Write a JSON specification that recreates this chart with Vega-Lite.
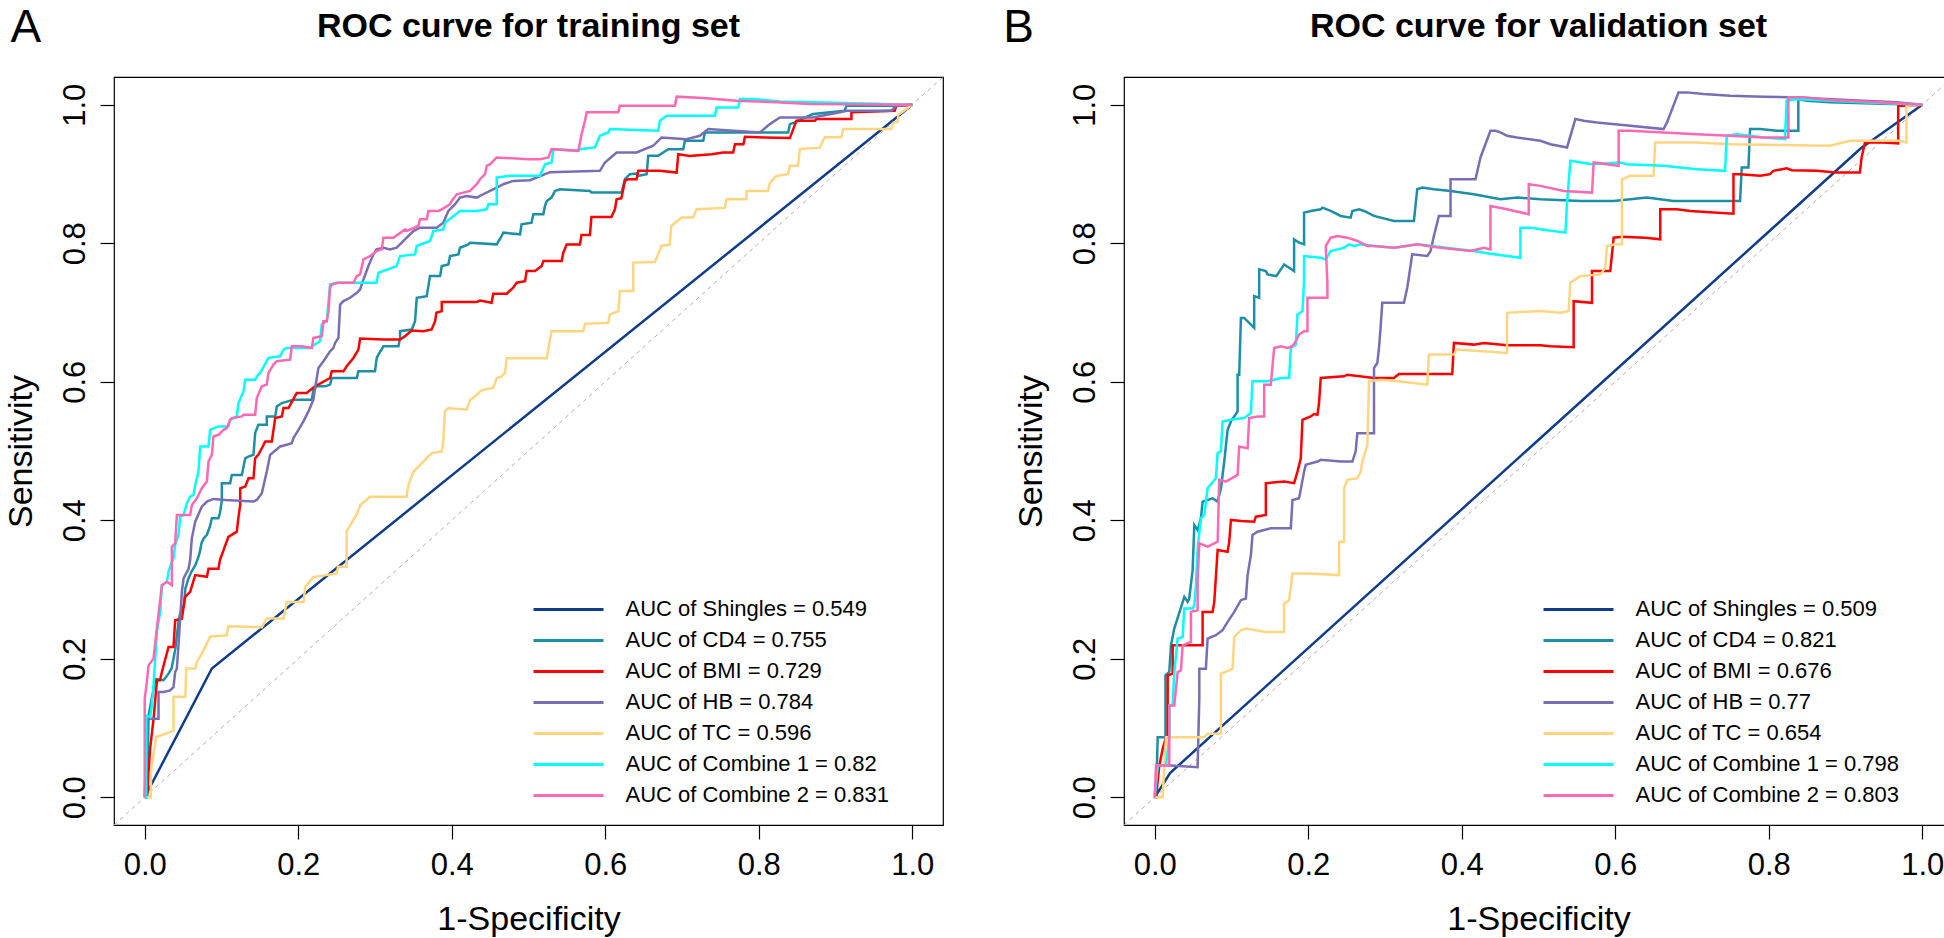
{
"$schema":"https://vega.github.io/schema/vega-lite/v6.json",
"padding":{"left":3,"top":3,"right":0,"bottom":0},
"background":"white",
"spacing":56,
"resolve":{"scale":{"color":"independent"},"legend":{"color":"independent"}},
"config":{
"font":"Liberation Sans",
"view":{"stroke":"#000","strokeWidth":1.2},
"axis":{"grid":false,"domain":false,"tickColor":"#000","tickSize":14,"tickWidth":1.2,"labelColor":"#000","labelFont":"Liberation Sans","labelFontSize":31,"titleFont":"Liberation Sans","titleFontSize":34,"titleFontWeight":"normal","titleColor":"#000","labelOverlap":false,"labelFlush":false}
},
"datasets":{
"aucA":[{"s":"S","lab":"AUC of Shingles = 0.549"},{"s":"C","lab":"AUC of CD4 = 0.755"},{"s":"B","lab":"AUC of BMI = 0.729"},{"s":"H","lab":"AUC of HB = 0.784"},{"s":"T","lab":"AUC of TC = 0.596"},{"s":"C1","lab":"AUC of Combine 1 = 0.82"},{"s":"C2","lab":"AUC of Combine 2 = 0.831"}],
"aucB":[{"s":"S","lab":"AUC of Shingles = 0.509"},{"s":"C","lab":"AUC of CD4 = 0.821"},{"s":"B","lab":"AUC of BMI = 0.676"},{"s":"H","lab":"AUC of HB = 0.77"},{"s":"T","lab":"AUC of TC = 0.654"},{"s":"C1","lab":"AUC of Combine 1 = 0.798"},{"s":"C2","lab":"AUC of Combine 2 = 0.803"}],
"tr":[
{"s":"S","x":0,"y":0},{"s":"S","x":0.0875,"y":0.186},{"s":"S","x":1,"y":1},
{"s":"C","x":0,"y":0},{"s":"C","x":0.003,"y":0},{"s":"C","x":0.005,"y":0.118},{"s":"C","x":0.014,"y":0.171},{"s":"C","x":0.0245,"y":0.169},{"s":"C","x":0.031,"y":0.1785},{"s":"C","x":0.035,"y":0.186},{"s":"C","x":0.0375,"y":0.2},{"s":"C","x":0.04,"y":0.215},{"s":"C","x":0.044,"y":0.253},{"s":"C","x":0.046,"y":0.265},{"s":"C","x":0.051,"y":0.277},{"s":"C","x":0.053,"y":0.3015},{"s":"C","x":0.057,"y":0.316},{"s":"C","x":0.061,"y":0.326},{"s":"C","x":0.066,"y":0.335},{"s":"C","x":0.07,"y":0.347},{"s":"C","x":0.072,"y":0.355},{"s":"C","x":0.074,"y":0.367},{"s":"C","x":0.077,"y":0.374},{"s":"C","x":0.081,"y":0.379},{"s":"C","x":0.085,"y":0.391},{"s":"C","x":0.0875,"y":0.403},{"s":"C","x":0.096,"y":0.403},{"s":"C","x":0.098,"y":0.41},{"s":"C","x":0.1005,"y":0.429},{"s":"C","x":0.1005,"y":0.4535},{"s":"C","x":0.1113,"y":0.4535},{"s":"C","x":0.1135,"y":0.4655},{"s":"C","x":0.1265,"y":0.4655},{"s":"C","x":0.131,"y":0.4896},{"s":"C","x":0.135,"y":0.492},{"s":"C","x":0.1417,"y":0.4945},{"s":"C","x":0.1439,"y":0.5258},{"s":"C","x":0.148,"y":0.5379},{"s":"C","x":0.159,"y":0.5379},{"s":"C","x":0.159,"y":0.5499},{"s":"C","x":0.17,"y":0.5499},{"s":"C","x":0.1721,"y":0.5644},{"s":"C","x":0.1786,"y":0.5692},{"s":"C","x":0.1938,"y":0.574},{"s":"C","x":0.2177,"y":0.574},{"s":"C","x":0.2198,"y":0.5885},{"s":"C","x":0.2242,"y":0.5934},{"s":"C","x":0.235,"y":0.5934},{"s":"C","x":0.2415,"y":0.5958},{"s":"C","x":0.2437,"y":0.6054},{"s":"C","x":0.2763,"y":0.6054},{"s":"C","x":0.2784,"y":0.615},{"s":"C","x":0.3,"y":0.615},{"s":"C","x":0.3023,"y":0.6344},{"s":"C","x":0.3045,"y":0.6392},{"s":"C","x":0.311,"y":0.6512},{"s":"C","x":0.3305,"y":0.6512},{"s":"C","x":0.3327,"y":0.6633},{"s":"C","x":0.3327,"y":0.673},{"s":"C","x":0.3479,"y":0.6754},{"s":"C","x":0.3522,"y":0.6874},{"s":"C","x":0.3544,"y":0.7212},{"s":"C","x":0.3674,"y":0.7236},{"s":"C","x":0.3696,"y":0.738},{"s":"C","x":0.3717,"y":0.7525},{"s":"C","x":0.3848,"y":0.7525},{"s":"C","x":0.387,"y":0.767},{"s":"C","x":0.3956,"y":0.7694},{"s":"C","x":0.3978,"y":0.7815},{"s":"C","x":0.4086,"y":0.7839},{"s":"C","x":0.4108,"y":0.7935},{"s":"C","x":0.4216,"y":0.7984},{"s":"C","x":0.4238,"y":0.8008},{"s":"C","x":0.4586,"y":0.7984},{"s":"C","x":0.465,"y":0.8104},{"s":"C","x":0.4672,"y":0.8152},{"s":"C","x":0.489,"y":0.8128},{"s":"C","x":0.491,"y":0.8273},{"s":"C","x":0.504,"y":0.8297},{"s":"C","x":0.5063,"y":0.8418},{"s":"C","x":0.5193,"y":0.8418},{"s":"C","x":0.5215,"y":0.8539},{"s":"C","x":0.5237,"y":0.861},{"s":"C","x":0.53,"y":0.8659},{"s":"C","x":0.5345,"y":0.8755},{"s":"C","x":0.541,"y":0.878},{"s":"C","x":0.58,"y":0.8755},{"s":"C","x":0.582,"y":0.8731},{"s":"C","x":0.6213,"y":0.8731},{"s":"C","x":0.6256,"y":0.8924},{"s":"C","x":0.632,"y":0.8997},{"s":"C","x":0.6408,"y":0.9006},{"s":"C","x":0.643,"y":0.8972},{"s":"C","x":0.6539,"y":0.8997},{"s":"C","x":0.656,"y":0.9262},{"s":"C","x":0.669,"y":0.9262},{"s":"C","x":0.682,"y":0.9358},{"s":"C","x":0.7016,"y":0.9358},{"s":"C","x":0.7037,"y":0.9479},{"s":"C","x":0.7276,"y":0.9479},{"s":"C","x":0.7298,"y":0.96},{"s":"C","x":0.8383,"y":0.96},{"s":"C","x":0.8405,"y":0.972},{"s":"C","x":0.847,"y":0.9744},{"s":"C","x":0.8514,"y":0.9769},{"s":"C","x":0.8707,"y":0.9865},{"s":"C","x":0.912,"y":0.9913},{"s":"C","x":0.9142,"y":0.9986},{"s":"C","x":0.9751,"y":0.9986},{"s":"C","x":1,"y":1},
{"s":"B","x":0,"y":0},{"s":"B","x":0.003,"y":0},{"s":"B","x":0.007,"y":0.07},{"s":"B","x":0.0115,"y":0.113},{"s":"B","x":0.016,"y":0.169},{"s":"B","x":0.02,"y":0.169},{"s":"B","x":0.0224,"y":0.181},{"s":"B","x":0.031,"y":0.217},{"s":"B","x":0.0375,"y":0.217},{"s":"B","x":0.0397,"y":0.2557},{"s":"B","x":0.0484,"y":0.258},{"s":"B","x":0.0527,"y":0.2894},{"s":"B","x":0.0592,"y":0.2967},{"s":"B","x":0.0658,"y":0.3208},{"s":"B","x":0.081,"y":0.3184},{"s":"B","x":0.0831,"y":0.33},{"s":"B","x":0.0961,"y":0.33},{"s":"B","x":0.098,"y":0.3425},{"s":"B","x":0.109,"y":0.376},{"s":"B","x":0.12,"y":0.3835},{"s":"B","x":0.122,"y":0.403},{"s":"B","x":0.1244,"y":0.422},{"s":"B","x":0.1244,"y":0.446},{"s":"B","x":0.131,"y":0.4486},{"s":"B","x":0.1352,"y":0.4607},{"s":"B","x":0.1417,"y":0.4607},{"s":"B","x":0.1439,"y":0.4896},{"s":"B","x":0.148,"y":0.4945},{"s":"B","x":0.1526,"y":0.504},{"s":"B","x":0.157,"y":0.5137},{"s":"B","x":0.1656,"y":0.5137},{"s":"B","x":0.17,"y":0.5475},{"s":"B","x":0.1786,"y":0.5499},{"s":"B","x":0.1808,"y":0.562},{"s":"B","x":0.1873,"y":0.562},{"s":"B","x":0.198,"y":0.5837},{"s":"B","x":0.211,"y":0.5837},{"s":"B","x":0.222,"y":0.5934},{"s":"B","x":0.2415,"y":0.6054},{"s":"B","x":0.2437,"y":0.615},{"s":"B","x":0.2589,"y":0.615},{"s":"B","x":0.2632,"y":0.6223},{"s":"B","x":0.2719,"y":0.6344},{"s":"B","x":0.2784,"y":0.6464},{"s":"B","x":0.2806,"y":0.6623},{"s":"B","x":0.311,"y":0.661},{"s":"B","x":0.3327,"y":0.661},{"s":"B","x":0.339,"y":0.6657},{"s":"B","x":0.3479,"y":0.674},{"s":"B","x":0.363,"y":0.673},{"s":"B","x":0.3739,"y":0.6754},{"s":"B","x":0.3783,"y":0.6874},{"s":"B","x":0.38,"y":0.6995},{"s":"B","x":0.387,"y":0.702},{"s":"B","x":0.387,"y":0.7153},{"s":"B","x":0.4325,"y":0.7153},{"s":"B","x":0.4369,"y":0.7173},{"s":"B","x":0.452,"y":0.714},{"s":"B","x":0.454,"y":0.727},{"s":"B","x":0.4716,"y":0.727},{"s":"B","x":0.48,"y":0.7357},{"s":"B","x":0.4846,"y":0.743},{"s":"B","x":0.4955,"y":0.7453},{"s":"B","x":0.4976,"y":0.76},{"s":"B","x":0.5085,"y":0.76},{"s":"B","x":0.5172,"y":0.767},{"s":"B","x":0.5194,"y":0.7745},{"s":"B","x":0.5432,"y":0.7745},{"s":"B","x":0.5454,"y":0.7863},{"s":"B","x":0.5497,"y":0.7983},{"s":"B","x":0.567,"y":0.7983},{"s":"B","x":0.569,"y":0.8119},{"s":"B","x":0.58,"y":0.8119},{"s":"B","x":0.582,"y":0.838},{"s":"B","x":0.608,"y":0.838},{"s":"B","x":0.6126,"y":0.849},{"s":"B","x":0.6148,"y":0.8635},{"s":"B","x":0.621,"y":0.865},{"s":"B","x":0.6256,"y":0.89},{"s":"B","x":0.63,"y":0.8925},{"s":"B","x":0.6408,"y":0.8925},{"s":"B","x":0.643,"y":0.9045},{"s":"B","x":0.671,"y":0.9045},{"s":"B","x":0.693,"y":0.902},{"s":"B","x":0.6951,"y":0.9286},{"s":"B","x":0.71,"y":0.926},{"s":"B","x":0.7384,"y":0.9286},{"s":"B","x":0.7537,"y":0.931},{"s":"B","x":0.7667,"y":0.931},{"s":"B","x":0.769,"y":0.943},{"s":"B","x":0.78,"y":0.943},{"s":"B","x":0.782,"y":0.9537},{"s":"B","x":0.8079,"y":0.9527},{"s":"B","x":0.8405,"y":0.9518},{"s":"B","x":0.8449,"y":0.9648},{"s":"B","x":0.849,"y":0.9769},{"s":"B","x":0.873,"y":0.9769},{"s":"B","x":0.8752,"y":0.9793},{"s":"B","x":0.9207,"y":0.9793},{"s":"B","x":0.9207,"y":0.989},{"s":"B","x":0.9771,"y":0.9913},{"s":"B","x":0.9793,"y":0.9986},{"s":"B","x":1,"y":1},
{"s":"H","x":0,"y":0},{"s":"H","x":0.0028,"y":0.1134},{"s":"H","x":0.018,"y":0.1134},{"s":"H","x":0.018,"y":0.152},{"s":"H","x":0.0245,"y":0.152},{"s":"H","x":0.0332,"y":0.1544},{"s":"H","x":0.0375,"y":0.159},{"s":"H","x":0.0397,"y":0.1809},{"s":"H","x":0.0419,"y":0.1857},{"s":"H","x":0.044,"y":0.2195},{"s":"H","x":0.0462,"y":0.258},{"s":"H","x":0.0484,"y":0.2967},{"s":"H","x":0.0506,"y":0.316},{"s":"H","x":0.0571,"y":0.33},{"s":"H","x":0.0592,"y":0.3425},{"s":"H","x":0.0614,"y":0.3739},{"s":"H","x":0.0658,"y":0.398},{"s":"H","x":0.0744,"y":0.4197},{"s":"H","x":0.081,"y":0.427},{"s":"H","x":0.0896,"y":0.4308},{"s":"H","x":0.1048,"y":0.4293},{"s":"H","x":0.1417,"y":0.427},{"s":"H","x":0.146,"y":0.4293},{"s":"H","x":0.1526,"y":0.439},{"s":"H","x":0.157,"y":0.4607},{"s":"H","x":0.159,"y":0.47},{"s":"H","x":0.1634,"y":0.4945},{"s":"H","x":0.1764,"y":0.5065},{"s":"H","x":0.185,"y":0.509},{"s":"H","x":0.1916,"y":0.5113},{"s":"H","x":0.1938,"y":0.5186},{"s":"H","x":0.2003,"y":0.5306},{"s":"H","x":0.2068,"y":0.5427},{"s":"H","x":0.2133,"y":0.5572},{"s":"H","x":0.2198,"y":0.574},{"s":"H","x":0.222,"y":0.5909},{"s":"H","x":0.2242,"y":0.6054},{"s":"H","x":0.2263,"y":0.6199},{"s":"H","x":0.2329,"y":0.6295},{"s":"H","x":0.2415,"y":0.644},{"s":"H","x":0.2459,"y":0.6488},{"s":"H","x":0.248,"y":0.656},{"s":"H","x":0.2524,"y":0.6633},{"s":"H","x":0.2546,"y":0.7115},{"s":"H","x":0.2589,"y":0.7164},{"s":"H","x":0.2676,"y":0.7212},{"s":"H","x":0.2763,"y":0.7284},{"s":"H","x":0.2806,"y":0.7332},{"s":"H","x":0.285,"y":0.7477},{"s":"H","x":0.2914,"y":0.767},{"s":"H","x":0.298,"y":0.7839},{"s":"H","x":0.302,"y":0.7911},{"s":"H","x":0.311,"y":0.7935},{"s":"H","x":0.3197,"y":0.7911},{"s":"H","x":0.3283,"y":0.7935},{"s":"H","x":0.3413,"y":0.808},{"s":"H","x":0.35,"y":0.8176},{"s":"H","x":0.3587,"y":0.8225},{"s":"H","x":0.3804,"y":0.8225},{"s":"H","x":0.389,"y":0.8297},{"s":"H","x":0.3956,"y":0.8466},{"s":"H","x":0.4043,"y":0.8563},{"s":"H","x":0.4108,"y":0.8659},{"s":"H","x":0.4195,"y":0.8683},{"s":"H","x":0.4325,"y":0.8659},{"s":"H","x":0.441,"y":0.8707},{"s":"H","x":0.4499,"y":0.8755},{"s":"H","x":0.4586,"y":0.8804},{"s":"H","x":0.4672,"y":0.8852},{"s":"H","x":0.48,"y":0.89},{"s":"H","x":0.502,"y":0.891},{"s":"H","x":0.528,"y":0.9026},{"s":"H","x":0.593,"y":0.9045},{"s":"H","x":0.5996,"y":0.9166},{"s":"H","x":0.6148,"y":0.931},{"s":"H","x":0.6408,"y":0.931},{"s":"H","x":0.6625,"y":0.9407},{"s":"H","x":0.6733,"y":0.9527},{"s":"H","x":0.7059,"y":0.9503},{"s":"H","x":0.7233,"y":0.9551},{"s":"H","x":0.7341,"y":0.9648},{"s":"H","x":0.8015,"y":0.96},{"s":"H","x":0.8145,"y":0.972},{"s":"H","x":0.8275,"y":0.9817},{"s":"H","x":0.8707,"y":0.9817},{"s":"H","x":0.9056,"y":0.989},{"s":"H","x":0.9142,"y":0.9913},{"s":"H","x":0.9729,"y":0.9913},{"s":"H","x":0.9793,"y":0.9986},{"s":"H","x":1,"y":1},
{"s":"T","x":0,"y":0},{"s":"T","x":0.008,"y":0},{"s":"T","x":0.008,"y":0.036},{"s":"T","x":0.015,"y":0.087},{"s":"T","x":0.0375,"y":0.096},{"s":"T","x":0.0375,"y":0.145},{"s":"T","x":0.053,"y":0.145},{"s":"T","x":0.054,"y":0.186},{"s":"T","x":0.0658,"y":0.186},{"s":"T","x":0.068,"y":0.1954},{"s":"T","x":0.0744,"y":0.2075},{"s":"T","x":0.0853,"y":0.232},{"s":"T","x":0.107,"y":0.234},{"s":"T","x":0.109,"y":0.247},{"s":"T","x":0.1526,"y":0.2456},{"s":"T","x":0.159,"y":0.2581},{"s":"T","x":0.181,"y":0.2581},{"s":"T","x":0.185,"y":0.282},{"s":"T","x":0.207,"y":0.282},{"s":"T","x":0.209,"y":0.3039},{"s":"T","x":0.2198,"y":0.318},{"s":"T","x":0.25,"y":0.3232},{"s":"T","x":0.252,"y":0.333},{"s":"T","x":0.263,"y":0.333},{"s":"T","x":0.263,"y":0.384},{"s":"T","x":0.276,"y":0.408},{"s":"T","x":0.281,"y":0.422},{"s":"T","x":0.2936,"y":0.434},{"s":"T","x":0.341,"y":0.434},{"s":"T","x":0.3436,"y":0.451},{"s":"T","x":0.35,"y":0.47},{"s":"T","x":0.363,"y":0.4848},{"s":"T","x":0.374,"y":0.4969},{"s":"T","x":0.387,"y":0.4993},{"s":"T","x":0.389,"y":0.514},{"s":"T","x":0.391,"y":0.557},{"s":"T","x":0.3956,"y":0.562},{"s":"T","x":0.4195,"y":0.5596},{"s":"T","x":0.424,"y":0.574},{"s":"T","x":0.428,"y":0.5765},{"s":"T","x":0.437,"y":0.586},{"s":"T","x":0.441,"y":0.5885},{"s":"T","x":0.454,"y":0.591},{"s":"T","x":0.4586,"y":0.605},{"s":"T","x":0.465,"y":0.6078},{"s":"T","x":0.4694,"y":0.6126},{"s":"T","x":0.4716,"y":0.634},{"s":"T","x":0.5236,"y":0.634},{"s":"T","x":0.53,"y":0.673},{"s":"T","x":0.5714,"y":0.673},{"s":"T","x":0.5736,"y":0.6836},{"s":"T","x":0.6039,"y":0.685},{"s":"T","x":0.606,"y":0.697},{"s":"T","x":0.617,"y":0.702},{"s":"T","x":0.619,"y":0.731},{"s":"T","x":0.6365,"y":0.731},{"s":"T","x":0.6365,"y":0.772},{"s":"T","x":0.6646,"y":0.773},{"s":"T","x":0.6733,"y":0.796},{"s":"T","x":0.684,"y":0.798},{"s":"T","x":0.686,"y":0.825},{"s":"T","x":0.6994,"y":0.837},{"s":"T","x":0.7146,"y":0.837},{"s":"T","x":0.719,"y":0.849},{"s":"T","x":0.7556,"y":0.851},{"s":"T","x":0.758,"y":0.8635},{"s":"T","x":0.784,"y":0.8635},{"s":"T","x":0.784,"y":0.8755},{"s":"T","x":0.812,"y":0.8755},{"s":"T","x":0.8145,"y":0.8876},{"s":"T","x":0.823,"y":0.897},{"s":"T","x":0.838,"y":0.8997},{"s":"T","x":0.8406,"y":0.912},{"s":"T","x":0.851,"y":0.912},{"s":"T","x":0.8536,"y":0.936},{"s":"T","x":0.8795,"y":0.938},{"s":"T","x":0.886,"y":0.953},{"s":"T","x":0.9076,"y":0.953},{"s":"T","x":0.91,"y":0.965},{"s":"T","x":0.9729,"y":0.965},{"s":"T","x":0.975,"y":0.974},{"s":"T","x":0.9815,"y":0.976},{"s":"T","x":0.9815,"y":0.985},{"s":"T","x":1,"y":1},
{"s":"C1","x":0,"y":0},{"s":"C1","x":0.002,"y":0},{"s":"C1","x":0.002,"y":0.118},{"s":"C1","x":0.0072,"y":0.1158},{"s":"C1","x":0.0093,"y":0.1327},{"s":"C1","x":0.0115,"y":0.1616},{"s":"C1","x":0.0137,"y":0.2002},{"s":"C1","x":0.0158,"y":0.2388},{"s":"C1","x":0.0202,"y":0.2677},{"s":"C1","x":0.0224,"y":0.3063},{"s":"C1","x":0.0289,"y":0.3111},{"s":"C1","x":0.031,"y":0.3256},{"s":"C1","x":0.0354,"y":0.34},{"s":"C1","x":0.0375,"y":0.345},{"s":"C1","x":0.0397,"y":0.3642},{"s":"C1","x":0.044,"y":0.3787},{"s":"C1","x":0.0462,"y":0.4052},{"s":"C1","x":0.0506,"y":0.4076},{"s":"C1","x":0.055,"y":0.4245},{"s":"C1","x":0.0592,"y":0.4342},{"s":"C1","x":0.0636,"y":0.4366},{"s":"C1","x":0.0658,"y":0.451},{"s":"C1","x":0.068,"y":0.4607},{"s":"C1","x":0.07,"y":0.4703},{"s":"C1","x":0.0723,"y":0.5065},{"s":"C1","x":0.0831,"y":0.5065},{"s":"C1","x":0.0853,"y":0.5306},{"s":"C1","x":0.0961,"y":0.5355},{"s":"C1","x":0.109,"y":0.5355},{"s":"C1","x":0.1113,"y":0.545},{"s":"C1","x":0.12,"y":0.5499},{"s":"C1","x":0.1222,"y":0.5692},{"s":"C1","x":0.1287,"y":0.5861},{"s":"C1","x":0.1309,"y":0.603},{"s":"C1","x":0.1439,"y":0.603},{"s":"C1","x":0.148,"y":0.6102},{"s":"C1","x":0.1504,"y":0.6126},{"s":"C1","x":0.1612,"y":0.6344},{"s":"C1","x":0.1764,"y":0.6368},{"s":"C1","x":0.1808,"y":0.6464},{"s":"C1","x":0.1851,"y":0.6488},{"s":"C1","x":0.2155,"y":0.6488},{"s":"C1","x":0.2177,"y":0.6512},{"s":"C1","x":0.2285,"y":0.6585},{"s":"C1","x":0.2307,"y":0.6826},{"s":"C1","x":0.2372,"y":0.6874},{"s":"C1","x":0.2415,"y":0.7405},{"s":"C1","x":0.2502,"y":0.7429},{"s":"C1","x":0.302,"y":0.7429},{"s":"C1","x":0.3045,"y":0.7574},{"s":"C1","x":0.3283,"y":0.767},{"s":"C1","x":0.3327,"y":0.7815},{"s":"C1","x":0.3522,"y":0.7839},{"s":"C1","x":0.3544,"y":0.796},{"s":"C1","x":0.3717,"y":0.8032},{"s":"C1","x":0.376,"y":0.8176},{"s":"C1","x":0.389,"y":0.82},{"s":"C1","x":0.3913,"y":0.8297},{"s":"C1","x":0.4108,"y":0.8466},{"s":"C1","x":0.4325,"y":0.8466},{"s":"C1","x":0.4455,"y":0.849},{"s":"C1","x":0.4477,"y":0.8563},{"s":"C1","x":0.4586,"y":0.8563},{"s":"C1","x":0.4586,"y":0.8948},{"s":"C1","x":0.476,"y":0.8973},{"s":"C1","x":0.515,"y":0.8973},{"s":"C1","x":0.5215,"y":0.9141},{"s":"C1","x":0.53,"y":0.9165},{"s":"C1","x":0.5324,"y":0.9358},{"s":"C1","x":0.5649,"y":0.9334},{"s":"C1","x":0.567,"y":0.9358},{"s":"C1","x":0.5866,"y":0.9383},{"s":"C1","x":0.5931,"y":0.9551},{"s":"C1","x":0.604,"y":0.96},{"s":"C1","x":0.606,"y":0.9648},{"s":"C1","x":0.669,"y":0.9624},{"s":"C1","x":0.6712,"y":0.9769},{"s":"C1","x":0.6799,"y":0.9841},{"s":"C1","x":0.7429,"y":0.9841},{"s":"C1","x":0.745,"y":0.9961},{"s":"C1","x":0.7732,"y":0.9961},{"s":"C1","x":0.7754,"y":1.0082},{"s":"C1","x":0.7928,"y":1.0082},{"s":"C1","x":0.8275,"y":1.0048},{"s":"C1","x":0.923,"y":1.002},{"s":"C1","x":1,"y":1},
{"s":"C2","x":0,"y":0},{"s":"C2","x":0,"y":0.1423},{"s":"C2","x":0.0028,"y":0.1664},{"s":"C2","x":0.005,"y":0.1905},{"s":"C2","x":0.0115,"y":0.2002},{"s":"C2","x":0.0158,"y":0.2436},{"s":"C2","x":0.0224,"y":0.3063},{"s":"C2","x":0.0289,"y":0.3111},{"s":"C2","x":0.0354,"y":0.3063},{"s":"C2","x":0.0354,"y":0.3618},{"s":"C2","x":0.0397,"y":0.3666},{"s":"C2","x":0.0419,"y":0.4076},{"s":"C2","x":0.0592,"y":0.4076},{"s":"C2","x":0.0614,"y":0.422},{"s":"C2","x":0.068,"y":0.4317},{"s":"C2","x":0.0744,"y":0.4462},{"s":"C2","x":0.081,"y":0.4559},{"s":"C2","x":0.0831,"y":0.4848},{"s":"C2","x":0.0875,"y":0.4945},{"s":"C2","x":0.0896,"y":0.521},{"s":"C2","x":0.0961,"y":0.5234},{"s":"C2","x":0.1026,"y":0.5306},{"s":"C2","x":0.107,"y":0.533},{"s":"C2","x":0.1113,"y":0.545},{"s":"C2","x":0.1135,"y":0.5475},{"s":"C2","x":0.1265,"y":0.5499},{"s":"C2","x":0.1287,"y":0.5523},{"s":"C2","x":0.1439,"y":0.5523},{"s":"C2","x":0.146,"y":0.5765},{"s":"C2","x":0.1526,"y":0.5934},{"s":"C2","x":0.159,"y":0.5958},{"s":"C2","x":0.1612,"y":0.6126},{"s":"C2","x":0.1677,"y":0.6247},{"s":"C2","x":0.172,"y":0.6295},{"s":"C2","x":0.1894,"y":0.6319},{"s":"C2","x":0.1916,"y":0.6512},{"s":"C2","x":0.2046,"y":0.6512},{"s":"C2","x":0.2177,"y":0.6488},{"s":"C2","x":0.2198,"y":0.6633},{"s":"C2","x":0.2307,"y":0.6657},{"s":"C2","x":0.2329,"y":0.6874},{"s":"C2","x":0.2372,"y":0.6874},{"s":"C2","x":0.2394,"y":0.7019},{"s":"C2","x":0.2415,"y":0.7356},{"s":"C2","x":0.2437,"y":0.7405},{"s":"C2","x":0.2524,"y":0.7429},{"s":"C2","x":0.2719,"y":0.7429},{"s":"C2","x":0.2763,"y":0.7525},{"s":"C2","x":0.2806,"y":0.755},{"s":"C2","x":0.285,"y":0.7767},{"s":"C2","x":0.2936,"y":0.7815},{"s":"C2","x":0.3023,"y":0.7887},{"s":"C2","x":0.3088,"y":0.7911},{"s":"C2","x":0.311,"y":0.808},{"s":"C2","x":0.324,"y":0.808},{"s":"C2","x":0.3392,"y":0.82},{"s":"C2","x":0.3413,"y":0.8177},{"s":"C2","x":0.3565,"y":0.8249},{"s":"C2","x":0.3587,"y":0.8345},{"s":"C2","x":0.3674,"y":0.8345},{"s":"C2","x":0.3696,"y":0.8466},{"s":"C2","x":0.3826,"y":0.8466},{"s":"C2","x":0.387,"y":0.849},{"s":"C2","x":0.3978,"y":0.8563},{"s":"C2","x":0.4,"y":0.8611},{"s":"C2","x":0.4065,"y":0.8707},{"s":"C2","x":0.4151,"y":0.8731},{"s":"C2","x":0.4238,"y":0.8755},{"s":"C2","x":0.4325,"y":0.8852},{"s":"C2","x":0.4369,"y":0.8924},{"s":"C2","x":0.4434,"y":0.8997},{"s":"C2","x":0.4456,"y":0.9117},{"s":"C2","x":0.45,"y":0.9141},{"s":"C2","x":0.4586,"y":0.9238},{"s":"C2","x":0.4998,"y":0.9214},{"s":"C2","x":0.515,"y":0.9214},{"s":"C2","x":0.526,"y":0.9238},{"s":"C2","x":0.53,"y":0.9358},{"s":"C2","x":0.5649,"y":0.9334},{"s":"C2","x":0.5692,"y":0.9575},{"s":"C2","x":0.5736,"y":0.9769},{"s":"C2","x":0.5758,"y":0.989},{"s":"C2","x":0.617,"y":0.989},{"s":"C2","x":0.619,"y":0.9986},{"s":"C2","x":0.6908,"y":0.9986},{"s":"C2","x":0.693,"y":1.0116},{"s":"C2","x":0.7276,"y":1.0096},{"s":"C2","x":0.7711,"y":1.0058},{"s":"C2","x":0.8231,"y":1.0034},{"s":"C2","x":0.8665,"y":1.001},{"s":"C2","x":1,"y":1}
],
"va":[
{"s":"S","x":0,"y":0},{"s":"S","x":0.02,"y":0.035},{"s":"S","x":0.92,"y":0.937},{"s":"S","x":1,"y":1},
{"s":"C","x":0,"y":0},{"s":"C","x":0.0017,"y":0},{"s":"C","x":0.0039,"y":0.0868},{"s":"C","x":0.014,"y":0.0868},{"s":"C","x":0.014,"y":0.1761},{"s":"C","x":0.019,"y":0.1809},{"s":"C","x":0.0212,"y":0.2195},{"s":"C","x":0.0255,"y":0.2436},{"s":"C","x":0.0386,"y":0.2894},{"s":"C","x":0.0429,"y":0.2822},{"s":"C","x":0.045,"y":0.287},{"s":"C","x":0.0494,"y":0.328},{"s":"C","x":0.0516,"y":0.3931},{"s":"C","x":0.056,"y":0.3859},{"s":"C","x":0.0602,"y":0.4028},{"s":"C","x":0.0624,"y":0.4269},{"s":"C","x":0.0754,"y":0.4317},{"s":"C","x":0.082,"y":0.4269},{"s":"C","x":0.0863,"y":0.4462},{"s":"C","x":0.0906,"y":0.4848},{"s":"C","x":0.095,"y":0.5306},{"s":"C","x":0.0993,"y":0.5427},{"s":"C","x":0.1036,"y":0.5499},{"s":"C","x":0.108,"y":0.5572},{"s":"C","x":0.108,"y":0.6102},{"s":"C","x":0.1101,"y":0.6102},{"s":"C","x":0.1123,"y":0.6922},{"s":"C","x":0.1166,"y":0.6922},{"s":"C","x":0.1296,"y":0.6778},{"s":"C","x":0.1296,"y":0.7236},{"s":"C","x":0.1361,"y":0.7212},{"s":"C","x":0.1361,"y":0.7622},{"s":"C","x":0.1448,"y":0.7598},{"s":"C","x":0.147,"y":0.755},{"s":"C","x":0.158,"y":0.7525},{"s":"C","x":0.16,"y":0.755},{"s":"C","x":0.1686,"y":0.7694},{"s":"C","x":0.1751,"y":0.7646},{"s":"C","x":0.1816,"y":0.7598},{"s":"C","x":0.1816,"y":0.8056},{"s":"C","x":0.1881,"y":0.8008},{"s":"C","x":0.1946,"y":0.7984},{"s":"C","x":0.1946,"y":0.8442},{"s":"C","x":0.2033,"y":0.8466},{"s":"C","x":0.2163,"y":0.849},{"s":"C","x":0.2185,"y":0.8514},{"s":"C","x":0.2293,"y":0.8466},{"s":"C","x":0.2423,"y":0.8394},{"s":"C","x":0.2553,"y":0.8369},{"s":"C","x":0.2575,"y":0.8466},{"s":"C","x":0.2662,"y":0.849},{"s":"C","x":0.2727,"y":0.8466},{"s":"C","x":0.2857,"y":0.8394},{"s":"C","x":0.3117,"y":0.8321},{"s":"C","x":0.3377,"y":0.8321},{"s":"C","x":0.342,"y":0.878},{"s":"C","x":0.3486,"y":0.8804},{"s":"C","x":0.3637,"y":0.878},{"s":"C","x":0.3854,"y":0.8755},{"s":"C","x":0.4158,"y":0.8707},{"s":"C","x":0.4505,"y":0.8635},{"s":"C","x":0.4721,"y":0.8659},{"s":"C","x":0.5025,"y":0.8635},{"s":"C","x":0.5545,"y":0.861},{"s":"C","x":0.5979,"y":0.861},{"s":"C","x":0.6412,"y":0.8659},{"s":"C","x":0.6759,"y":0.861},{"s":"C","x":0.7626,"y":0.861},{"s":"C","x":0.7648,"y":0.9093},{"s":"C","x":0.7735,"y":0.9093},{"s":"C","x":0.7756,"y":0.9648},{"s":"C","x":0.7886,"y":0.9648},{"s":"C","x":0.8104,"y":0.9624},{"s":"C","x":0.8385,"y":0.9624},{"s":"C","x":0.8385,"y":1.0082},{"s":"C","x":0.8494,"y":1.0058},{"s":"C","x":0.8797,"y":1.0034},{"s":"C","x":0.923,"y":1.002},{"s":"C","x":1,"y":1},
{"s":"B","x":0,"y":0},{"s":"B","x":0.0017,"y":0},{"s":"B","x":0.006,"y":0.0458},{"s":"B","x":0.0104,"y":0.07},{"s":"B","x":0.0147,"y":0.0868},{"s":"B","x":0.0169,"y":0.0868},{"s":"B","x":0.0169,"y":0.1761},{"s":"B","x":0.0234,"y":0.1785},{"s":"B","x":0.0234,"y":0.2195},{"s":"B","x":0.0624,"y":0.2195},{"s":"B","x":0.0624,"y":0.2677},{"s":"B","x":0.0754,"y":0.2677},{"s":"B","x":0.0776,"y":0.2822},{"s":"B","x":0.082,"y":0.357},{"s":"B","x":0.095,"y":0.3546},{"s":"B","x":0.0971,"y":0.369},{"s":"B","x":0.0993,"y":0.4004},{"s":"B","x":0.1123,"y":0.3989},{"s":"B","x":0.1296,"y":0.398},{"s":"B","x":0.1318,"y":0.4052},{"s":"B","x":0.1448,"y":0.4076},{"s":"B","x":0.1448,"y":0.4535},{"s":"B","x":0.1686,"y":0.4559},{"s":"B","x":0.1816,"y":0.4535},{"s":"B","x":0.186,"y":0.4703},{"s":"B","x":0.1903,"y":0.4896},{"s":"B","x":0.1925,"y":0.5451},{"s":"B","x":0.2033,"y":0.5499},{"s":"B","x":0.2076,"y":0.5533},{"s":"B","x":0.212,"y":0.5523},{"s":"B","x":0.2141,"y":0.5692},{"s":"B","x":0.2163,"y":0.6054},{"s":"B","x":0.2467,"y":0.6078},{"s":"B","x":0.251,"y":0.6102},{"s":"B","x":0.2857,"y":0.6054},{"s":"B","x":0.3117,"y":0.6054},{"s":"B","x":0.3182,"y":0.6112},{"s":"B","x":0.3876,"y":0.6112},{"s":"B","x":0.3898,"y":0.656},{"s":"B","x":0.4158,"y":0.6536},{"s":"B","x":0.4288,"y":0.656},{"s":"B","x":0.4591,"y":0.6527},{"s":"B","x":0.5025,"y":0.6527},{"s":"B","x":0.5155,"y":0.6512},{"s":"B","x":0.5458,"y":0.6498},{"s":"B","x":0.5458,"y":0.7163},{"s":"B","x":0.5697,"y":0.7139},{"s":"B","x":0.5697,"y":0.7598},{"s":"B","x":0.5935,"y":0.7598},{"s":"B","x":0.5979,"y":0.808},{"s":"B","x":0.6087,"y":0.8095},{"s":"B","x":0.639,"y":0.808},{"s":"B","x":0.6586,"y":0.8056},{"s":"B","x":0.6586,"y":0.849},{"s":"B","x":0.6802,"y":0.849},{"s":"B","x":0.6976,"y":0.8466},{"s":"B","x":0.754,"y":0.8427},{"s":"B","x":0.754,"y":0.8997},{"s":"B","x":0.7626,"y":0.8997},{"s":"B","x":0.7887,"y":0.8973},{"s":"B","x":0.8017,"y":0.8997},{"s":"B","x":0.806,"y":0.9045},{"s":"B","x":0.8234,"y":0.9083},{"s":"B","x":0.8298,"y":0.9055},{"s":"B","x":0.8624,"y":0.9045},{"s":"B","x":0.8884,"y":0.9021},{"s":"B","x":0.9187,"y":0.9021},{"s":"B","x":0.9209,"y":0.9238},{"s":"B","x":0.9253,"y":0.9455},{"s":"B","x":0.9491,"y":0.9455},{"s":"B","x":0.9686,"y":0.9441},{"s":"B","x":0.9686,"y":0.9986},{"s":"B","x":0.9794,"y":0.9986},{"s":"B","x":1,"y":1},
{"s":"H","x":0,"y":0},{"s":"H","x":0.0039,"y":0.0458},{"s":"H","x":0.0212,"y":0.0458},{"s":"H","x":0.0559,"y":0.0434},{"s":"H","x":0.0581,"y":0.1423},{"s":"H","x":0.0581,"y":0.1857},{"s":"H","x":0.0667,"y":0.1857},{"s":"H","x":0.0689,"y":0.2291},{"s":"H","x":0.0797,"y":0.234},{"s":"H","x":0.0884,"y":0.2412},{"s":"H","x":0.095,"y":0.2533},{"s":"H","x":0.1036,"y":0.2677},{"s":"H","x":0.1123,"y":0.2846},{"s":"H","x":0.1188,"y":0.287},{"s":"H","x":0.121,"y":0.3208},{"s":"H","x":0.1253,"y":0.3497},{"s":"H","x":0.1274,"y":0.3787},{"s":"H","x":0.1339,"y":0.3835},{"s":"H","x":0.1513,"y":0.3883},{"s":"H","x":0.1773,"y":0.3883},{"s":"H","x":0.1795,"y":0.4293},{"s":"H","x":0.1881,"y":0.4317},{"s":"H","x":0.1946,"y":0.47},{"s":"H","x":0.1968,"y":0.48},{"s":"H","x":0.212,"y":0.4848},{"s":"H","x":0.2163,"y":0.4872},{"s":"H","x":0.2423,"y":0.4848},{"s":"H","x":0.2575,"y":0.4848},{"s":"H","x":0.2618,"y":0.4993},{"s":"H","x":0.264,"y":0.5258},{"s":"H","x":0.2857,"y":0.5258},{"s":"H","x":0.2857,"y":0.6199},{"s":"H","x":0.29,"y":0.6271},{"s":"H","x":0.2922,"y":0.6488},{"s":"H","x":0.2944,"y":0.6802},{"s":"H","x":0.2965,"y":0.714},{"s":"H","x":0.3247,"y":0.714},{"s":"H","x":0.329,"y":0.7357},{"s":"H","x":0.3355,"y":0.7839},{"s":"H","x":0.3551,"y":0.7815},{"s":"H","x":0.3594,"y":0.7887},{"s":"H","x":0.3637,"y":0.8104},{"s":"H","x":0.3702,"y":0.8394},{"s":"H","x":0.3854,"y":0.8394},{"s":"H","x":0.3854,"y":0.8924},{"s":"H","x":0.4179,"y":0.8924},{"s":"H","x":0.4244,"y":0.9238},{"s":"H","x":0.4374,"y":0.9624},{"s":"H","x":0.4439,"y":0.9624},{"s":"H","x":0.4505,"y":0.96},{"s":"H","x":0.4591,"y":0.9551},{"s":"H","x":0.4721,"y":0.9527},{"s":"H","x":0.5025,"y":0.9479},{"s":"H","x":0.5155,"y":0.943},{"s":"H","x":0.5372,"y":0.9383},{"s":"H","x":0.548,"y":0.9793},{"s":"H","x":0.5588,"y":0.9769},{"s":"H","x":0.5762,"y":0.9744},{"s":"H","x":0.6196,"y":0.9696},{"s":"H","x":0.6629,"y":0.9648},{"s":"H","x":0.6674,"y":0.9744},{"s":"H","x":0.6824,"y":1.0178},{"s":"H","x":0.6932,"y":1.0178},{"s":"H","x":0.7149,"y":1.0154},{"s":"H","x":0.7497,"y":1.013},{"s":"H","x":0.7929,"y":1.0116},{"s":"H","x":0.8278,"y":1.0106},{"s":"H","x":0.923,"y":1.0058},{"s":"H","x":0.9664,"y":1.0034},{"s":"H","x":1,"y":1},
{"s":"T","x":0,"y":0},{"s":"T","x":0.0104,"y":0},{"s":"T","x":0.0125,"y":0.0458},{"s":"T","x":0.0147,"y":0.0868},{"s":"T","x":0.0646,"y":0.0868},{"s":"T","x":0.0689,"y":0.0917},{"s":"T","x":0.0862,"y":0.0917},{"s":"T","x":0.0862,"y":0.1785},{"s":"T","x":0.0971,"y":0.1833},{"s":"T","x":0.1014,"y":0.1857},{"s":"T","x":0.1036,"y":0.2315},{"s":"T","x":0.1123,"y":0.2412},{"s":"T","x":0.1188,"y":0.2436},{"s":"T","x":0.1448,"y":0.2388},{"s":"T","x":0.1686,"y":0.2388},{"s":"T","x":0.1686,"y":0.2798},{"s":"T","x":0.1751,"y":0.2846},{"s":"T","x":0.1795,"y":0.3232},{"s":"T","x":0.2011,"y":0.3232},{"s":"T","x":0.2402,"y":0.3208},{"s":"T","x":0.2402,"y":0.369},{"s":"T","x":0.2467,"y":0.369},{"s":"T","x":0.2467,"y":0.4462},{"s":"T","x":0.251,"y":0.4583},{"s":"T","x":0.264,"y":0.4607},{"s":"T","x":0.2683,"y":0.47},{"s":"T","x":0.2705,"y":0.4848},{"s":"T","x":0.277,"y":0.509},{"s":"T","x":0.2792,"y":0.6006},{"s":"T","x":0.2944,"y":0.603},{"s":"T","x":0.3117,"y":0.6015},{"s":"T","x":0.3551,"y":0.5958},{"s":"T","x":0.3572,"y":0.6392},{"s":"T","x":0.3897,"y":0.6392},{"s":"T","x":0.394,"y":0.6464},{"s":"T","x":0.459,"y":0.6416},{"s":"T","x":0.459,"y":0.6995},{"s":"T","x":0.5025,"y":0.702},{"s":"T","x":0.5285,"y":0.6995},{"s":"T","x":0.5393,"y":0.702},{"s":"T","x":0.5415,"y":0.7429},{"s":"T","x":0.5545,"y":0.7525},{"s":"T","x":0.5805,"y":0.755},{"s":"T","x":0.587,"y":0.7646},{"s":"T","x":0.5892,"y":0.796},{"s":"T","x":0.6,"y":0.7984},{"s":"T","x":0.6087,"y":0.7984},{"s":"T","x":0.6087,"y":0.8924},{"s":"T","x":0.6195,"y":0.8973},{"s":"T","x":0.6499,"y":0.8973},{"s":"T","x":0.652,"y":0.9455},{"s":"T","x":0.7063,"y":0.9455},{"s":"T","x":0.7496,"y":0.943},{"s":"T","x":0.8797,"y":0.9407},{"s":"T","x":0.897,"y":0.9455},{"s":"T","x":0.9057,"y":0.948},{"s":"T","x":0.9707,"y":0.948},{"s":"T","x":0.9794,"y":0.9455},{"s":"T","x":0.9794,"y":0.9986},{"s":"T","x":1,"y":1},
{"s":"C1","x":0,"y":0},{"s":"C1","x":0.0039,"y":0.0458},{"s":"C1","x":0.0147,"y":0.0458},{"s":"C1","x":0.019,"y":0.0868},{"s":"C1","x":0.019,"y":0.1327},{"s":"C1","x":0.0234,"y":0.1327},{"s":"C1","x":0.0255,"y":0.1809},{"s":"C1","x":0.0299,"y":0.2291},{"s":"C1","x":0.0364,"y":0.2315},{"s":"C1","x":0.0386,"y":0.2726},{"s":"C1","x":0.0494,"y":0.2726},{"s":"C1","x":0.0516,"y":0.2774},{"s":"C1","x":0.0537,"y":0.3063},{"s":"C1","x":0.0559,"y":0.3594},{"s":"C1","x":0.0602,"y":0.4028},{"s":"C1","x":0.0646,"y":0.4076},{"s":"C1","x":0.0667,"y":0.4269},{"s":"C1","x":0.0689,"y":0.4462},{"s":"C1","x":0.0797,"y":0.4607},{"s":"C1","x":0.0819,"y":0.4969},{"s":"C1","x":0.0862,"y":0.4993},{"s":"C1","x":0.0884,"y":0.5427},{"s":"C1","x":0.0993,"y":0.5451},{"s":"C1","x":0.1166,"y":0.5475},{"s":"C1","x":0.1253,"y":0.5547},{"s":"C1","x":0.1274,"y":0.6006},{"s":"C1","x":0.147,"y":0.6006},{"s":"C1","x":0.1556,"y":0.603},{"s":"C1","x":0.1643,"y":0.6054},{"s":"C1","x":0.1751,"y":0.6054},{"s":"C1","x":0.1773,"y":0.6488},{"s":"C1","x":0.1838,"y":0.6536},{"s":"C1","x":0.186,"y":0.697},{"s":"C1","x":0.1925,"y":0.7019},{"s":"C1","x":0.1946,"y":0.7453},{"s":"C1","x":0.1946,"y":0.7815},{"s":"C1","x":0.2163,"y":0.779},{"s":"C1","x":0.2228,"y":0.7767},{"s":"C1","x":0.2293,"y":0.7887},{"s":"C1","x":0.238,"y":0.7911},{"s":"C1","x":0.2467,"y":0.7935},{"s":"C1","x":0.2532,"y":0.7984},{"s":"C1","x":0.2597,"y":0.796},{"s":"C1","x":0.2684,"y":0.7984},{"s":"C1","x":0.2857,"y":0.796},{"s":"C1","x":0.3117,"y":0.7935},{"s":"C1","x":0.329,"y":0.796},{"s":"C1","x":0.342,"y":0.7984},{"s":"C1","x":0.3724,"y":0.7945},{"s":"C1","x":0.3984,"y":0.7911},{"s":"C1","x":0.4158,"y":0.7887},{"s":"C1","x":0.4374,"y":0.7849},{"s":"C1","x":0.4591,"y":0.7815},{"s":"C1","x":0.4764,"y":0.779},{"s":"C1","x":0.4764,"y":0.8225},{"s":"C1","x":0.4894,"y":0.8225},{"s":"C1","x":0.5025,"y":0.8201},{"s":"C1","x":0.535,"y":0.8152},{"s":"C1","x":0.5372,"y":0.8587},{"s":"C1","x":0.5415,"y":0.919},{"s":"C1","x":0.5697,"y":0.9141},{"s":"C1","x":0.6066,"y":0.9165},{"s":"C1","x":0.6152,"y":0.9141},{"s":"C1","x":0.6629,"y":0.9117},{"s":"C1","x":0.7063,"y":0.9069},{"s":"C1","x":0.7431,"y":0.9045},{"s":"C1","x":0.7453,"y":0.9551},{"s":"C1","x":0.7583,"y":0.9575},{"s":"C1","x":0.7756,"y":0.9551},{"s":"C1","x":0.7929,"y":0.9527},{"s":"C1","x":0.8211,"y":0.9503},{"s":"C1","x":0.8233,"y":1.0058},{"s":"C1","x":0.8363,"y":1.0082},{"s":"C1","x":0.8797,"y":1.0058},{"s":"C1","x":0.923,"y":1.0034},{"s":"C1","x":1,"y":1},
{"s":"C2","x":0,"y":0},{"s":"C2","x":0.0017,"y":0.0458},{"s":"C2","x":0.019,"y":0.0458},{"s":"C2","x":0.019,"y":0.1327},{"s":"C2","x":0.0255,"y":0.1327},{"s":"C2","x":0.0299,"y":0.1809},{"s":"C2","x":0.0342,"y":0.1833},{"s":"C2","x":0.0364,"y":0.2195},{"s":"C2","x":0.0472,"y":0.2243},{"s":"C2","x":0.0472,"y":0.2677},{"s":"C2","x":0.0559,"y":0.2701},{"s":"C2","x":0.0559,"y":0.316},{"s":"C2","x":0.0581,"y":0.3666},{"s":"C2","x":0.0689,"y":0.3618},{"s":"C2","x":0.082,"y":0.369},{"s":"C2","x":0.0841,"y":0.4583},{"s":"C2","x":0.0927,"y":0.4559},{"s":"C2","x":0.108,"y":0.4655},{"s":"C2","x":0.1101,"y":0.5065},{"s":"C2","x":0.121,"y":0.5041},{"s":"C2","x":0.1231,"y":0.5475},{"s":"C2","x":0.134,"y":0.5499},{"s":"C2","x":0.1426,"y":0.5499},{"s":"C2","x":0.1426,"y":0.5958},{"s":"C2","x":0.1513,"y":0.5958},{"s":"C2","x":0.1556,"y":0.6488},{"s":"C2","x":0.1643,"y":0.6512},{"s":"C2","x":0.173,"y":0.6488},{"s":"C2","x":0.1795,"y":0.6512},{"s":"C2","x":0.1838,"y":0.6585},{"s":"C2","x":0.1881,"y":0.6681},{"s":"C2","x":0.1946,"y":0.673},{"s":"C2","x":0.199,"y":0.673},{"s":"C2","x":0.199,"y":0.7212},{"s":"C2","x":0.225,"y":0.7212},{"s":"C2","x":0.225,"y":0.7429},{"s":"C2","x":0.2228,"y":0.796},{"s":"C2","x":0.2293,"y":0.808},{"s":"C2","x":0.238,"y":0.8104},{"s":"C2","x":0.251,"y":0.808},{"s":"C2","x":0.264,"y":0.8032},{"s":"C2","x":0.277,"y":0.796},{"s":"C2","x":0.2857,"y":0.796},{"s":"C2","x":0.3117,"y":0.7935},{"s":"C2","x":0.342,"y":0.7984},{"s":"C2","x":0.3551,"y":0.796},{"s":"C2","x":0.3724,"y":0.7935},{"s":"C2","x":0.3941,"y":0.7911},{"s":"C2","x":0.4114,"y":0.7887},{"s":"C2","x":0.4288,"y":0.7935},{"s":"C2","x":0.4374,"y":0.7911},{"s":"C2","x":0.4374,"y":0.8538},{"s":"C2","x":0.4591,"y":0.849},{"s":"C2","x":0.4873,"y":0.8418},{"s":"C2","x":0.4873,"y":0.8852},{"s":"C2","x":0.5025,"y":0.8828},{"s":"C2","x":0.5328,"y":0.8755},{"s":"C2","x":0.5697,"y":0.8731},{"s":"C2","x":0.5719,"y":0.9165},{"s":"C2","x":0.6044,"y":0.9117},{"s":"C2","x":0.6044,"y":0.9624},{"s":"C2","x":0.6195,"y":0.9624},{"s":"C2","x":0.6629,"y":0.96},{"s":"C2","x":0.7063,"y":0.9575},{"s":"C2","x":0.7496,"y":0.9551},{"s":"C2","x":0.7929,"y":0.9527},{"s":"C2","x":0.8255,"y":0.9527},{"s":"C2","x":0.8255,"y":1.0106},{"s":"C2","x":0.8449,"y":1.0106},{"s":"C2","x":0.8797,"y":1.0068},{"s":"C2","x":0.923,"y":1.0048},{"s":"C2","x":0.9664,"y":1.002},{"s":"C2","x":1,"y":1}
]
},
"hconcat":[
{
"width":829,"height":748,
"layer":[
{"data":{"values":[{"x":-0.04,"y":-0.04},{"x":1.04,"y":1.04}]},"mark":{"type":"line","color":"#b0b0b0","strokeWidth":1,"strokeDash":[4,4]},
"encoding":{
"x":{"field":"x","type":"quantitative","scale":{"domain":[-0.04,1.04],"nice":false,"zero":false},"axis":{"values":[0,0.2,0.4,0.6,0.8,1],"format":".1f","title":"1-Specificity","labelPadding":11.5,"titlePadding":22}},
"y":{"field":"y","type":"quantitative","scale":{"domain":[-0.04,1.04],"nice":false,"zero":false},"axis":{"values":[0,0.2,0.4,0.6,0.8,1],"format":".1f","title":"Sensitivity","labelAngle":-90,"labelAlign":"center","labelBaseline":"alphabetic","labelPadding":16,"titlePadding":21}}}},
{"data":{"name":"tr"},"transform":[{"lookup":"s","from":{"data":{"name":"aucA"},"key":"s","fields":["lab"]}}],
"mark":{"type":"line","strokeWidth":2.5,"clip":true},
"encoding":{
"x":{"field":"x","type":"quantitative","scale":{"domain":[-0.04,1.04],"nice":false,"zero":false},"axis":{"values":[0,0.2,0.4,0.6,0.8,1],"format":".1f","title":"1-Specificity","labelPadding":11.5,"titlePadding":22}},
"y":{"field":"y","type":"quantitative","scale":{"domain":[-0.04,1.04],"nice":false,"zero":false},"axis":{"values":[0,0.2,0.4,0.6,0.8,1],"format":".1f","title":"Sensitivity","labelAngle":-90,"labelAlign":"center","labelBaseline":"alphabetic","labelPadding":16,"titlePadding":21}},
"order":{"value":null},
"color":{"field":"lab","type":"nominal","scale":{"domain":["AUC of Shingles = 0.549","AUC of CD4 = 0.755","AUC of BMI = 0.729","AUC of HB = 0.784","AUC of TC = 0.596","AUC of Combine 1 = 0.82","AUC of Combine 2 = 0.831"],"range":["#0f3d8c","#1b8fa6","#ff0000","#7a6db3","#ffd580","#00ffff","#ff69b4"]},
"legend":{"title":null,"orient":"none","legendX":418,"legendY":517.3,"symbolType":"stroke","symbolSize":4900,"symbolStrokeWidth":3,"labelFontSize":22,"labelFont":"Liberation Sans","labelColor":"#000","labelLimit":0,"clipHeight":30.3,"rowPadding":0,"labelOffset":20.5,"padding":0}}}},
{"data":{"values":[{"t":"A"}]},"mark":{"type":"text","fontSize":46,"align":"left","baseline":"alphabetic","color":"#000","font":"Liberation Sans"},
"encoding":{"x":{"datum":-0.175,"type":"quantitative","scale":{"domain":[-0.04,1.04],"nice":false,"zero":false}},"y":{"datum":1.0912,"type":"quantitative","scale":{"domain":[-0.04,1.04],"nice":false,"zero":false}},"text":{"field":"t"}}},
{"data":{"values":[{"t":"ROC curve for training set"}]},"mark":{"type":"text","fontSize":34,"fontWeight":"bold","align":"center","baseline":"alphabetic","color":"#000","font":"Liberation Sans"},
"encoding":{"x":{"datum":0.5,"type":"quantitative","scale":{"domain":[-0.04,1.04],"nice":false,"zero":false}},"y":{"datum":1.0984,"type":"quantitative","scale":{"domain":[-0.04,1.04],"nice":false,"zero":false}},"text":{"field":"t"}}}
]
},
{
"width":829,"height":748,
"layer":[
{"data":{"values":[{"x":-0.04,"y":-0.04},{"x":1.04,"y":1.04}]},"mark":{"type":"line","color":"#b0b0b0","strokeWidth":1,"strokeDash":[4,4]},
"encoding":{
"x":{"field":"x","type":"quantitative","scale":{"domain":[-0.04,1.04],"nice":false,"zero":false},"axis":{"values":[0,0.2,0.4,0.6,0.8,1],"format":".1f","title":"1-Specificity","labelPadding":11.5,"titlePadding":22}},
"y":{"field":"y","type":"quantitative","scale":{"domain":[-0.04,1.04],"nice":false,"zero":false},"axis":{"values":[0,0.2,0.4,0.6,0.8,1],"format":".1f","title":"Sensitivity","labelAngle":-90,"labelAlign":"center","labelBaseline":"alphabetic","labelPadding":16,"titlePadding":21}}}},
{"data":{"name":"va"},"transform":[{"lookup":"s","from":{"data":{"name":"aucB"},"key":"s","fields":["lab"]}}],
"mark":{"type":"line","strokeWidth":2.5,"clip":true},
"encoding":{
"x":{"field":"x","type":"quantitative","scale":{"domain":[-0.04,1.04],"nice":false,"zero":false},"axis":{"values":[0,0.2,0.4,0.6,0.8,1],"format":".1f","title":"1-Specificity","labelPadding":11.5,"titlePadding":22}},
"y":{"field":"y","type":"quantitative","scale":{"domain":[-0.04,1.04],"nice":false,"zero":false},"axis":{"values":[0,0.2,0.4,0.6,0.8,1],"format":".1f","title":"Sensitivity","labelAngle":-90,"labelAlign":"center","labelBaseline":"alphabetic","labelPadding":16,"titlePadding":21}},
"order":{"value":null},
"color":{"field":"lab","type":"nominal","scale":{"domain":["AUC of Shingles = 0.509","AUC of CD4 = 0.821","AUC of BMI = 0.676","AUC of HB = 0.77","AUC of TC = 0.654","AUC of Combine 1 = 0.798","AUC of Combine 2 = 0.803"],"range":["#0f3d8c","#1b8fa6","#ff0000","#7a6db3","#ffd580","#00ffff","#ff69b4"]},
"legend":{"title":null,"orient":"none","legendX":418,"legendY":517.3,"symbolType":"stroke","symbolSize":4900,"symbolStrokeWidth":3,"labelFontSize":22,"labelFont":"Liberation Sans","labelColor":"#000","labelLimit":0,"clipHeight":30.3,"rowPadding":0,"labelOffset":20.5,"padding":0}}}},
{"data":{"values":[{"t":"B"}]},"mark":{"type":"text","fontSize":46,"align":"left","baseline":"alphabetic","color":"#000","font":"Liberation Sans"},
"encoding":{"x":{"datum":-0.1973,"type":"quantitative","scale":{"domain":[-0.04,1.04],"nice":false,"zero":false}},"y":{"datum":1.0912,"type":"quantitative","scale":{"domain":[-0.04,1.04],"nice":false,"zero":false}},"text":{"field":"t"}}},
{"data":{"values":[{"t":"ROC curve for validation set"}]},"mark":{"type":"text","fontSize":34,"fontWeight":"bold","align":"center","baseline":"alphabetic","color":"#000","font":"Liberation Sans"},
"encoding":{"x":{"datum":0.5,"type":"quantitative","scale":{"domain":[-0.04,1.04],"nice":false,"zero":false}},"y":{"datum":1.0984,"type":"quantitative","scale":{"domain":[-0.04,1.04],"nice":false,"zero":false}},"text":{"field":"t"}}}
]
}
]
}
